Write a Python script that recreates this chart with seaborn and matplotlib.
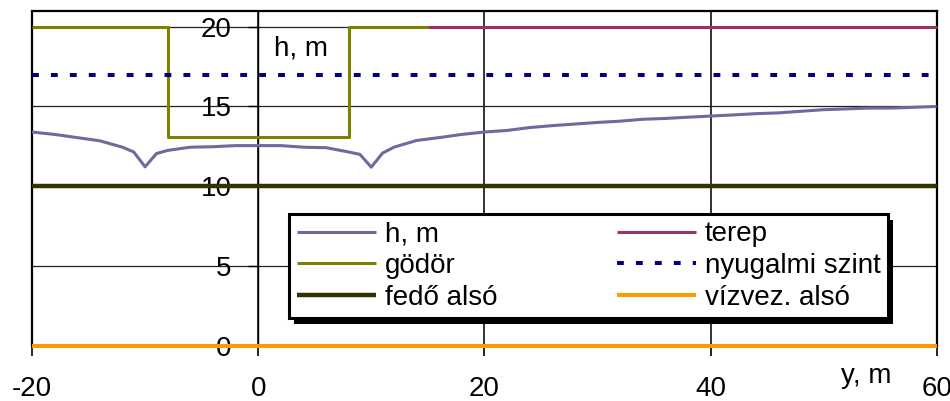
import matplotlib
matplotlib.use("Agg")
import matplotlib.pyplot as plt
import seaborn as sns
import pandas as pd
from matplotlib.patches import Rectangle

# ---------------- data ----------------
h_x = [-20, -18, -16, -14, -12, -11, -10, -9, -8, -6, -4, -2, 0, 2, 4, 6, 8, 9, 10, 11, 12,
       14, 16, 18, 20, 22, 24, 26, 28, 30, 32, 34, 36, 38, 40, 42, 44, 46, 48, 50, 52, 54, 56, 58, 60]
h_y = [13.4, 13.25, 13.05, 12.85, 12.45, 12.15, 11.22, 12.05, 12.25, 12.45, 12.48, 12.55, 12.55, 12.55, 12.45, 12.42, 12.15, 12.0, 11.2, 12.08, 12.45,
       12.87, 13.05, 13.25, 13.4, 13.5, 13.68, 13.8, 13.9, 14.0, 14.08, 14.2, 14.25, 14.33, 14.4, 14.47, 14.55, 14.6, 14.7, 14.8, 14.85, 14.9, 14.9, 14.95, 15.0]
godor_x = [-20, -8, -8, 8, 8, 15]
godor_y = [20, 20, 13.1, 13.1, 20, 20]
fedo_x = [-20, 60]
fedo_y = [10, 10]
terep_x = [15, 60]
terep_y = [20, 20]
nyug_x = [-20, 60]
nyug_y = [17, 17]
viz_x = [-20, 60]
viz_y = [0, 0]

labels = ["h, m", "gödör", "fedő alsó", "terep", "nyugalmi szint", "vízvez. alsó"]
colors = ["#6B6BA0", "#808000", "#333300", "#993366", "#000080", "#FF9900"]
x_ticks = [-20, 0, 20, 40, 60]
y_ticks = [0, 5, 10, 15, 20]

# ---------------- style ----------------
sns.set_style("white")
plt.rcParams["font.family"] = ["Liberation Sans", "DejaVu Sans"]
plt.rcParams["axes.unicode_minus"] = False
plt.rcParams["text.color"] = "black"

fig = plt.figure(figsize=(9.5, 4.01), dpi=100)
ax = fig.add_axes([32 / 950, 55 / 401, (936.7 - 32) / 950, (346 - 11) / 401])

series = [
    (h_x, h_y, dict(lw=2.2)),
    (godor_x, godor_y, dict(lw=2.2)),
    (fedo_x, fedo_y, dict(lw=3.2)),
    (terep_x, terep_y, dict(lw=2.2)),
    (nyug_x, nyug_y, dict(lw=2.9, dashes=(1.7, 3.0), dash_capstyle="butt")),
    (viz_x, viz_y, dict(lw=2.9)),
]
for (xs, ys, kw), lab, col in zip(series, labels, colors):
    df = pd.DataFrame({"x": xs, "y": ys})
    dashes = kw.pop("dashes", None)
    capstyle = kw.pop("dash_capstyle", None)
    sns.lineplot(data=df, x="x", y="y", ax=ax, color=col, label=lab,
                 sort=False, estimator=None, zorder=3, **kw)
    ln = ax.get_lines()[-1]
    ln.set_clip_on(False)
    ln.set_solid_capstyle("butt")
    if dashes is not None:
        ln.set_dashes(dashes)
        ln.set_dash_capstyle(capstyle)

ax.set_xlim(x_ticks[0], x_ticks[-1])
ax.set_ylim(0, 20.98)
ax.set_xticks(x_ticks)
ax.set_yticks(y_ticks)
ax.set_xlabel("")
ax.set_ylabel("")

ax.spines["left"].set_position(("data", 0))
ax.spines["left"].set_linewidth(1.0)
ax.spines["left"].set_color("black")
ax.spines["bottom"].set_visible(False)
for s in ["top", "right"]:
    ax.spines[s].set_linewidth(1.6)
    ax.spines[s].set_color("black")
ax.axvline(x_ticks[0], color="black", lw=1.6, clip_on=False, zorder=2.5)

ax.set_axisbelow(True)
ax.xaxis.grid(True, color="#222222", lw=1.3)
ax.yaxis.grid(True, color="#222222", lw=0.9)

ax.tick_params(axis="x", direction="out", length=7.2, width=1.2, pad=14.5,
               labelsize=20, colors="black", bottom=True)
ax.tick_params(axis="y", direction="out", length=7.2, width=1.0, pad=12,
               labelsize=20, colors="black", left=True)

ax.text(1.4, 18.22, "h, m", fontsize=20, va="baseline", ha="left", color="black")
ax.text(56.03, -2.34, "y, m", fontsize=20, va="baseline", ha="right", clip_on=False,
        color="black")

leg = ax.legend(ncol=2, loc="upper left", bbox_to_anchor=(289 / 950, 1 - 214 / 401),
                bbox_transform=fig.transFigure, borderaxespad=0, fontsize=20,
                frameon=True, fancybox=False, framealpha=1, edgecolor="black",
                handlelength=2.85, handletextpad=0.32, columnspacing=4.3,
                labelspacing=0.2, borderpad=0.27, labelcolor="black")
leg.get_frame().set_linewidth(2.2)
leg.set_zorder(6)

fig.canvas.draw()
bb = leg.get_frame().get_window_extent(fig.canvas.get_renderer())
shadow = Rectangle((bb.x0 + 5, bb.y0 - 6), bb.width, bb.height, transform=None,
                   facecolor="black", edgecolor="none", zorder=5.5, clip_on=False)
ax.add_artist(shadow)

fig.savefig("out.png", dpi=100)
